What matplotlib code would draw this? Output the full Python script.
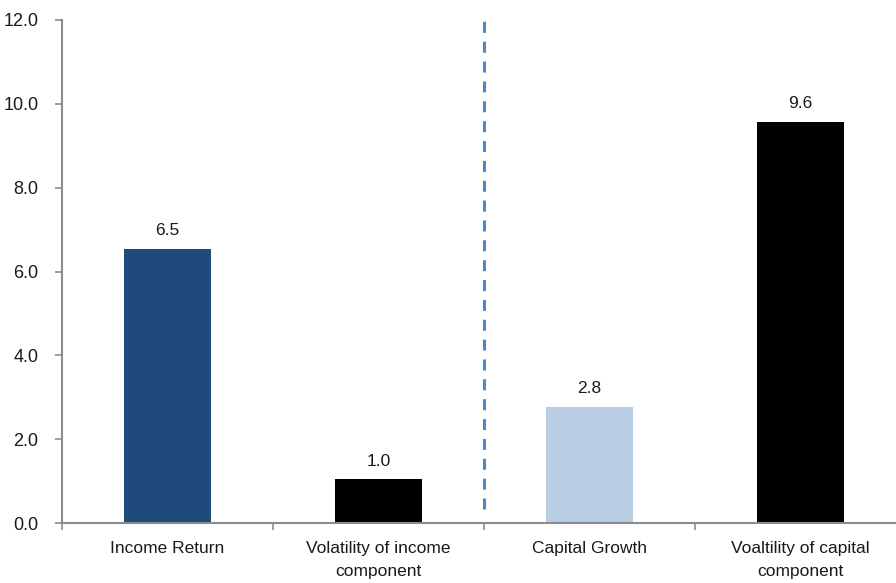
import matplotlib
import matplotlib.pyplot as plt

matplotlib.use("Agg")

# Chart data
categories = ["Income Return", "Volatility of income\ncomponent", "Capital Growth", "Voaltility of capital\ncomponent"]
values = [6.54, 1.04, 2.77, 9.57]
bar_colors = ["#1F4A7C", "#000000", "#B9CDE5", "#000000"]
yticks = [0, 2, 4, 6, 8, 10, 12]

plt.rcParams["font.family"] = ["Liberation Sans", "DejaVu Sans"]

fig = plt.figure(figsize=(8.96, 5.83), dpi=100)
# axes runs past the right edge like the original
ax = fig.add_axes([62 / 896, 60 / 583, 844 / 896, 503 / 583])

x = range(len(categories))
bars = ax.bar(x, values, width=0.41, color=bar_colors)

# value labels on top of bars
for xi, v in zip(x, values):
    ax.annotate(f"{v:.1f}", (xi, v), textcoords="offset points", xytext=(0, 7.5),
                ha="center", va="bottom", fontsize=12.5, color="#1a1a1a")

# dashed divider between income and capital parts
ax.plot([1.5, 1.5], [0.33, 12.15], linestyle=(0, (3.6, 2.9)), color="#4F86C6",
        linewidth=2.2, clip_on=False)

ax.set_xlim(-0.5, 3.5)
ax.set_ylim(0, 12)
ax.set_yticks(yticks)
ax.set_yticklabels([f"{t:.1f}" for t in yticks])

ax.set_xticks(list(x))
ax.set_xticklabels(categories, fontsize=12.5, color="#1a1a1a", linespacing=1.65)
ax.set_xticks([-0.5, 0.5, 1.5, 2.5, 3.5], minor=True)
ax.tick_params(axis="x", which="major", length=0, pad=13)
ax.tick_params(axis="x", which="minor", length=5, width=1.2, color="#8c8c8c")
ax.tick_params(axis="y", length=5, width=1.2, color="#8c8c8c", labelsize=13,
               labelcolor="#1a1a1a", pad=12)

for side in ["top", "right"]:
    ax.spines[side].set_visible(False)
for side in ["left", "bottom"]:
    ax.spines[side].set_color("#8c8c8c")
    ax.spines[side].set_linewidth(1.5)

fig.savefig("out.png", dpi=100)
plt.close(fig)
